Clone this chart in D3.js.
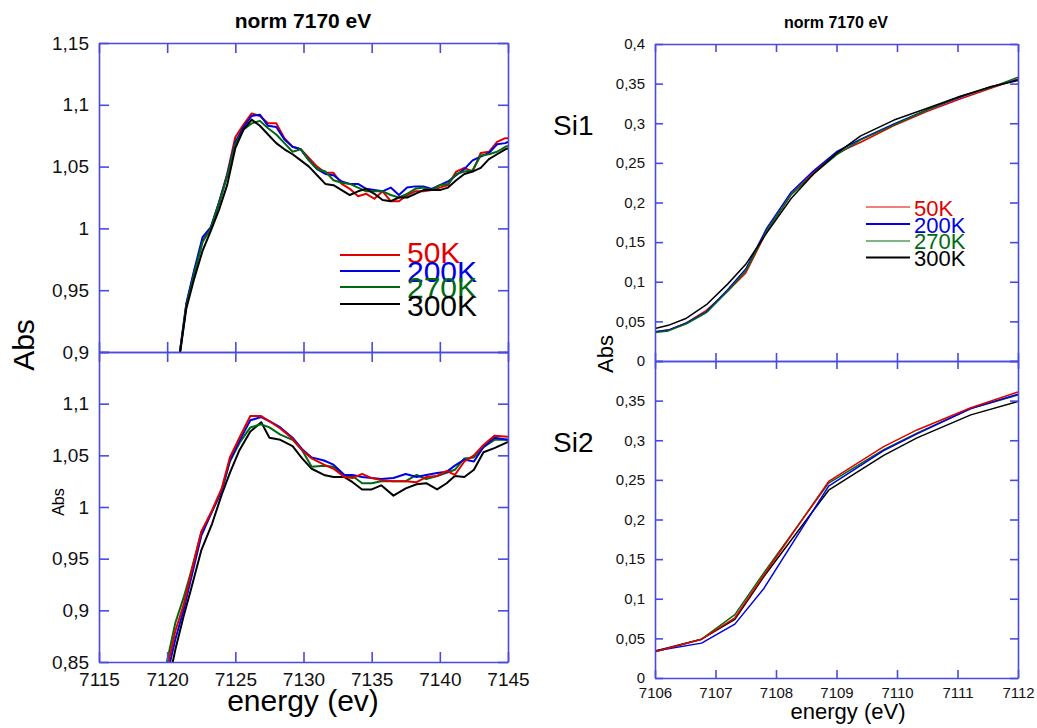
<!DOCTYPE html>
<html><head><meta charset="utf-8">
<script src="https://cdn.jsdelivr.net/npm/d3@7"></script>
<style>
html,body{margin:0;padding:0;background:#fff;}
svg{display:block;font-family:"Liberation Sans",Arial,Helvetica,sans-serif;}
</style></head>
<body>
<svg id="c" width="1037" height="728"></svg>
<script>
// ---------- DATA ----------
const seriesNames = ["50K", "200K", "270K", "300K"];
const seriesColors = ["#e00000", "#0000e0", "#006a10", "#000000"];

// Left top panel (norm 7170 eV)
const ltEnergy = [7120.8,7121.4,7122.0,7122.6,7123.2,7123.8,7124.4,7125.0,7125.6,7126.2,7126.8,7127.4,7128.0,7128.6,7129.2,7129.8,7130.4,7131.0,7131.6,7132.2,7132.8,7133.4,7134.0,7134.6,7135.2,7135.8,7136.4,7137.0,7137.6,7138.2,7138.8,7139.4,7140.0,7140.6,7141.2,7141.8,7142.4,7143.0,7143.6,7144.2,7144.8,7145.4];
const lt50K  = [0.889,0.938,0.966,0.990,1.000,1.021,1.044,1.074,1.084,1.093,1.091,1.085,1.085,1.073,1.066,1.064,1.057,1.050,1.045,1.045,1.036,1.032,1.026,1.028,1.024,1.030,1.022,1.022,1.027,1.030,1.030,1.031,1.033,1.035,1.046,1.049,1.046,1.061,1.062,1.070,1.073,1.073];
const lt200K = [0.889,0.939,0.967,0.993,1.001,1.021,1.043,1.070,1.082,1.091,1.092,1.083,1.082,1.072,1.066,1.064,1.055,1.048,1.044,1.043,1.038,1.036,1.036,1.032,1.031,1.030,1.033,1.027,1.033,1.034,1.034,1.032,1.035,1.038,1.043,1.048,1.055,1.058,1.061,1.068,1.069,1.072];
const lt270K = [0.888,0.937,0.964,0.989,1.000,1.020,1.042,1.068,1.080,1.085,1.087,1.081,1.076,1.069,1.062,1.064,1.055,1.048,1.046,1.039,1.037,1.036,1.033,1.030,1.030,1.030,1.027,1.025,1.028,1.032,1.033,1.031,1.035,1.036,1.044,1.046,1.047,1.059,1.060,1.062,1.066,1.068];
const lt300K = [0.888,0.935,0.960,0.982,0.998,1.015,1.035,1.065,1.080,1.088,1.083,1.076,1.069,1.064,1.060,1.055,1.050,1.043,1.036,1.035,1.031,1.027,1.030,1.032,1.028,1.023,1.022,1.025,1.025,1.028,1.031,1.031,1.031,1.033,1.039,1.044,1.046,1.049,1.056,1.060,1.064,1.066];

// Left bottom panel
const lbEnergy = [7119.9,7120.6,7121.2,7121.7,7122.5,7123.3,7124.0,7124.6,7125.3,7126.1,7126.9,7127.5,7128.3,7129.2,7129.9,7130.6,7131.5,7132.2,7133.0,7133.6,7134.3,7135.0,7135.7,7136.6,7137.5,7138.3,7139.0,7139.8,7140.5,7141.1,7141.8,7142.5,7143.2,7144.0,7145.0];
const lb50K  = [0.838,0.880,0.905,0.933,0.976,0.997,1.018,1.048,1.067,1.088,1.088,1.083,1.076,1.066,1.055,1.047,1.041,1.037,1.029,1.028,1.032,1.028,1.026,1.025,1.025,1.024,1.029,1.030,1.035,1.031,1.044,1.050,1.060,1.069,1.068];
const lb200K = [0.832,0.872,0.900,0.928,0.972,0.996,1.016,1.045,1.064,1.084,1.087,1.083,1.077,1.067,1.056,1.048,1.045,1.041,1.031,1.031,1.029,1.028,1.027,1.028,1.032,1.029,1.031,1.033,1.034,1.040,1.046,1.044,1.058,1.067,1.065];
const lb270K = [0.845,0.888,0.912,0.935,0.975,0.996,1.016,1.044,1.062,1.077,1.080,1.077,1.070,1.065,1.055,1.039,1.040,1.039,1.030,1.030,1.023,1.023,1.025,1.025,1.025,1.031,1.027,1.030,1.033,1.036,1.047,1.048,1.058,1.065,1.065];
const lb300K = [0.818,0.862,0.894,0.918,0.958,0.984,1.012,1.033,1.055,1.073,1.082,1.067,1.065,1.059,1.047,1.037,1.031,1.029,1.029,1.024,1.017,1.017,1.021,1.011,1.018,1.022,1.023,1.017,1.023,1.030,1.029,1.036,1.053,1.057,1.063];

// Right top panel (Si1)
const rtEnergy = [7106.0,7106.22,7106.52,7106.85,7107.2,7107.5,7107.85,7108.25,7108.62,7109.0,7109.4,7109.95,7110.5,7111.05,7111.55,7112.0];
const rt50K  = [0.037,0.039,0.048,0.064,0.088,0.111,0.164,0.210,0.238,0.262,0.276,0.297,0.315,0.331,0.344,0.356];
const rt200K = [0.037,0.039,0.048,0.062,0.090,0.116,0.168,0.213,0.240,0.264,0.280,0.299,0.317,0.333,0.346,0.355];
const rt270K = [0.036,0.038,0.047,0.061,0.088,0.114,0.165,0.210,0.236,0.260,0.279,0.298,0.317,0.334,0.345,0.358];
const rt300K = [0.041,0.045,0.054,0.071,0.097,0.122,0.162,0.205,0.236,0.262,0.284,0.304,0.319,0.334,0.346,0.354];

// Right bottom panel (Si2)
const rbEnergy = [7106.0,7106.77,7107.32,7107.8,7108.87,7109.78,7110.33,7111.22,7112.0];
const rb50K  = [0.033,0.049,0.076,0.130,0.248,0.292,0.313,0.341,0.361];
const rb200K = [0.034,0.044,0.068,0.113,0.242,0.287,0.308,0.340,0.358];
const rb270K = [0.033,0.049,0.080,0.133,0.246,0.288,0.309,0.340,0.357];
const rb300K = [0.034,0.049,0.074,0.128,0.237,0.281,0.303,0.332,0.349];

// Tick values
const leftXTicks = [7115,7120,7125,7130,7135,7140,7145];
const ltYTicks = [0.9,0.95,1,1.05,1.1,1.15];
const lbYTicks = [0.85,0.9,0.95,1,1.05,1.1,1.15];
const lbYLabels = [0.85,0.9,0.95,1,1.05,1.1];
const rightXTicks = [7106,7107,7108,7109,7110,7111,7112];
const rtYTicks = [0,0.05,0.1,0.15,0.2,0.25,0.3,0.35,0.4];
const rbYLabels = [0,0.05,0.1,0.15,0.2,0.25,0.3,0.35];

// ---------- DRAW ----------
const svg = d3.select("#c");
const AX = "#4a4ae2";
const fmt = v => String(v).replace(".", ",");
let clipId = 0;

function panel(o) {
  const x = d3.scaleLinear().domain(o.xd).range([o.x0, o.x1]);
  const y = d3.scaleLinear().domain(o.yd).range([o.y1, o.y0]);
  const g = svg.append("g");
  const id = "clip" + (clipId++);
  svg.append("clipPath").attr("id", id).append("rect")
    .attr("x", o.x0).attr("y", o.y0).attr("width", o.x1 - o.x0).attr("height", o.y1 - o.y0);
  const lg = g.append("g").attr("clip-path", `url(#${id})`);
  const line = d3.line().x(d => x(d[0])).y(d => y(d[1]));
  o.order.forEach(i => {
    const pts = o.xs.map((e, k) => [e, o.ys[i][k]]);
    lg.append("path").attr("d", line(pts)).attr("fill", "none")
      .attr("stroke", seriesColors[i]).attr("stroke-width", o.lw)
      .attr("stroke-linejoin", "round");
  });
  const T = o.tick;
  const style = sel => {
    sel.select(".domain").attr("stroke", AX).attr("stroke-width", 1.6);
    sel.selectAll(".tick line").attr("stroke", AX).attr("stroke-width", 1.6);
    sel.selectAll("text").attr("fill", "#111").style("font-size", o.fs + "px")
      .style("font-family", '"Liberation Sans",Arial,Helvetica,sans-serif');
  };
  g.append("g").attr("transform", `translate(${o.x0},0)`)
    .call(d3.axisLeft(y).tickValues(o.yTicks).tickSize(-T).tickSizeOuter(0).tickPadding(10)
      .tickFormat(v => o.yLabels.some(l => Math.abs(l - v) < 1e-9) ? fmt(v) : ""))
    .call(style);
  g.append("g").attr("transform", `translate(${o.x1},0)`)
    .call(d3.axisRight(y).tickValues(o.yTicks).tickSize(-T).tickSizeOuter(0).tickFormat(""))
    .call(style);
  g.append("g").attr("transform", `translate(0,${o.y0})`)
    .call(d3.axisTop(x).tickValues(o.xTicks).tickSize(-T).tickSizeOuter(0).tickFormat(""))
    .call(style);
  g.append("g").attr("transform", `translate(0,${o.y1})`)
    .call(d3.axisBottom(x).tickValues(o.xTicks).tickSize(-T).tickSizeOuter(0).tickPadding(o.xPad)
      .tickFormat(o.xLabels ? (v => String(v)) : ""))
    .call(style);
  return {x, y};
}

panel({xd:[7115,7145], yd:[0.9,1.15], x0:99, x1:508, y0:43, y1:352,
  xs:ltEnergy, ys:[lt50K,lt200K,lt270K,lt300K], order:[0,1,2,3], lw:2,
  xTicks:leftXTicks, yTicks:ltYTicks, yLabels:ltYTicks, xLabels:false, tick:10, fs:19, xPad:11});
panel({xd:[7115,7145], yd:[0.85,1.15], x0:99, x1:508, y0:352, y1:662,
  xs:lbEnergy, ys:[lb50K,lb200K,lb270K,lb300K], order:[3,2,1,0], lw:2,
  xTicks:leftXTicks, yTicks:lbYTicks, yLabels:lbYLabels, xLabels:true, tick:10, fs:19, xPad:11});
panel({xd:[7106,7112], yd:[0,0.4], x0:655, x1:1018, y0:44, y1:361,
  xs:rtEnergy, ys:[rt50K,rt200K,rt270K,rt300K], order:[0,1,2,3], lw:1.5,
  xTicks:rightXTicks, yTicks:rtYTicks, yLabels:rtYTicks, xLabels:false, tick:8, fs:15, xPad:9});
panel({xd:[7106,7112], yd:[0,0.4], x0:655, x1:1018, y0:361, y1:678,
  xs:rbEnergy, ys:[rb50K,rb200K,rb270K,rb300K], order:[3,2,1,0], lw:1.5,
  xTicks:rightXTicks, yTicks:rtYTicks, yLabels:rbYLabels, xLabels:true, tick:8, fs:15, xPad:9});

// Titles and labels
const txt = (x, y, s, size, opts = {}) => {
  const t = svg.append("text").attr("x", x).attr("y", y).text(s)
    .style("font-size", size + "px").attr("fill", opts.fill || "#000")
    .attr("text-anchor", opts.anchor || "start");
  if (opts.bold) t.style("font-weight", "bold");
  if (opts.rot) t.attr("transform", `rotate(-90,${x},${y})`);
  return t;
};
txt(303, 28, "norm 7170 eV", 21, {anchor:"middle", bold:true});
txt(836, 28, "norm 7170 eV", 16, {anchor:"middle", bold:true});
txt(303, 711, "energy (ev)", 30, {anchor:"middle"});
txt(848, 719, "energy (eV)", 22, {anchor:"middle"});
txt(34, 345, "Abs", 30, {anchor:"middle", rot:true});
txt(64, 502, "Abs", 16, {anchor:"middle", rot:true});
txt(613, 354, "Abs", 22, {anchor:"middle", rot:true});
txt(553, 135, "Si1", 28);
txt(553, 452, "Si2", 28);

// Legends
function legend(o) {
  const g = svg.append("g");
  seriesNames.forEach((n, i) => {
    g.append("line").attr("x1", o.lx0).attr("x2", o.lx1)
      .attr("y1", o.ly[i]).attr("y2", o.ly[i])
      .attr("stroke", seriesColors[i]).attr("stroke-width", o.lws[i]);
    g.append("text").attr("x", o.tx).attr("y", o.ty[i]).text(n)
      .attr("fill", seriesColors[i]).style("font-size", o.fs + "px");
  });
}
legend({lx0:340, lx1:400, ly:[255,271,287,304], tx:407, ty:[263,282,298,316], fs:30, lws:[2,2,2,2]});
legend({lx0:866, lx1:910, ly:[207,224,241,257.5], tx:914, ty:[216,233,249,266], fs:22, lws:[1,2,1,2]});
</script>
</body></html>
